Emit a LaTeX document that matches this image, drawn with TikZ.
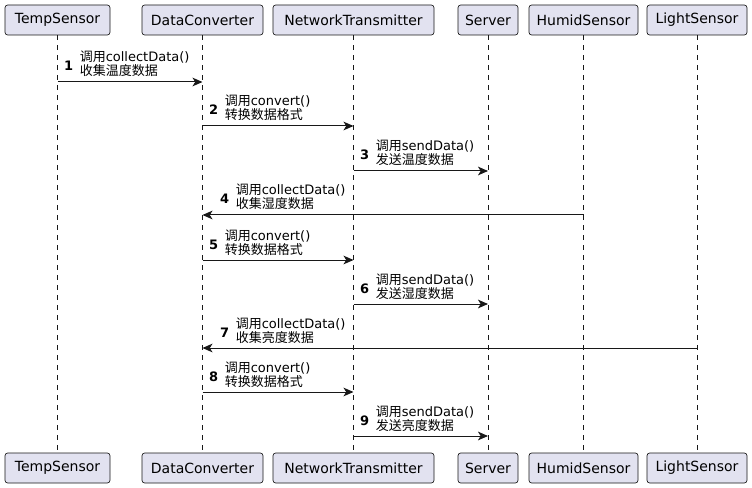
\documentclass[tikz,border=0pt]{standalone}
\usepackage{fontspec}
\setmainfont{DejaVu Sans}
\newfontfamily\cjk{Noto Sans CJK SC}
\usetikzlibrary{arrows.meta,calc}
\definecolor{partfill}{HTML}{E2E2F0}
\definecolor{lineclr}{HTML}{181818}
\newcommand\umsg[9]{%
  \coordinate (y#1) at (0,#4);
  \draw[msgline] (#2 |- y#1) -- (#3 |- y#1);
  \node[numtxt, anchor=base east] (n#1) at ($(#5 |- y#1)+(#6,-11)$) {#7};
  \node[msgtxt, anchor=base west] (a#1) at ($(#5 |- y#1)+(#6+6,-20)$) {#8};
  \node[msgtxt, anchor=base west] (b#1) at ($(#5 |- y#1)+(#6+6,-6)$) {#9};
}
\begin{document}
\begin{tikzpicture}[x=0.75pt,y=-0.75pt,
  part/.style={draw=lineclr, fill=partfill, rounded corners=2pt, line width=0.5pt,
    minimum height=22.5pt, inner sep=0pt, font=\fontsize{10.5pt}{13pt}\selectfont},
  lifeline/.style={draw=lineclr, line width=0.5pt, dash pattern=on 3.75pt off 3.75pt},
  msgline/.style={draw=lineclr, line width=0.75pt, -{Stealth[length=7.5pt,width=6.5pt,inset=2pt]}},
  numtxt/.style={inner sep=0pt, font=\fontsize{9.75pt}{12pt}\selectfont\bfseries},
  msgtxt/.style={inner sep=0pt, font=\fontsize{9.75pt}{12pt}\selectfont}]
\useasboundingbox[fill=white] (0,0) rectangle (752,488);
% participants top
\node[part, minimum width=78.75pt] (tTS) at (57.5,20) {TempSensor};
\node[part, minimum width=90.75pt] (tDC) at (202.5,20) {DataConverter};
\node[part, minimum width=120.75pt] (tNT) at (353.5,20) {NetworkTransmitter};
\node[part, minimum width=45pt] (tSV) at (488,20) {Server};
\node[part, minimum width=81.75pt] (tHS) at (583.5,20) {HumidSensor};
\node[part, minimum width=75pt] (tLS) at (697,20) {LightSensor};
% participants bottom
\node[part, minimum width=78.75pt] (bTS) at (57.5,468) {TempSensor};
\node[part, minimum width=90.75pt] (bDC) at (202.5,468) {DataConverter};
\node[part, minimum width=120.75pt] (bNT) at (353.5,468) {NetworkTransmitter};
\node[part, minimum width=45pt] (bSV) at (488,468) {Server};
\node[part, minimum width=81.75pt] (bHS) at (583.5,468) {HumidSensor};
\node[part, minimum width=75pt] (bLS) at (697,468) {LightSensor};
% lifelines
\foreach \p in {TS,DC,NT,SV,HS,LS} {
  \draw[lifeline] (t\p.south) -- (b\p.north);
}
% messages
\umsg{1}{tTS}{tDC}{82}{tTS}{16}{1}{{\cjk 调用}collectData()}{{\cjk 收集温度数据}}
\umsg{2}{tDC}{tNT}{126}{tDC}{16}{2}{{\cjk 调用}convert()}{{\cjk 转换数据格式}}
\umsg{3}{tNT}{tSV}{171}{tNT}{16}{3}{{\cjk 调用}sendData()}{{\cjk 发送温度数据}}
\umsg{4}{tHS}{tDC}{215}{tDC}{27}{4}{{\cjk 调用}collectData()}{{\cjk 收集湿度数据}}
\umsg{5}{tDC}{tNT}{260}{tDC}{16}{5}{{\cjk 调用}convert()}{{\cjk 转换数据格式}}
\umsg{6}{tNT}{tSV}{304}{tNT}{16}{6}{{\cjk 调用}sendData()}{{\cjk 发送湿度数据}}
\umsg{7}{tLS}{tDC}{348}{tDC}{27}{7}{{\cjk 调用}collectData()}{{\cjk 收集亮度数据}}
\umsg{8}{tDC}{tNT}{392}{tDC}{16}{8}{{\cjk 调用}convert()}{{\cjk 转换数据格式}}
\umsg{9}{tNT}{tSV}{436}{tNT}{16}{9}{{\cjk 调用}sendData()}{{\cjk 发送亮度数据}}
\end{tikzpicture}
\end{document}
